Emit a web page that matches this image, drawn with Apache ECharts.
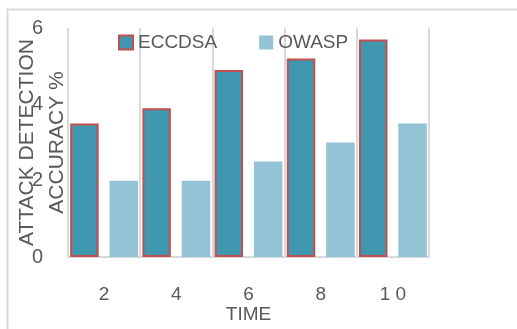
<!DOCTYPE html>
<html>
<head>
<meta charset="utf-8">
<script src="https://cdn.jsdelivr.net/npm/echarts@6/dist/echarts.min.js"></script>
<style>
  html, body { margin: 0; padding: 0; background: #fff; }
  #chart { width: 517px; height: 329px; }
</style>
</head>
<body>
<div id="chart"></div>
<script>
var timeLabels = ['2', '4', '6', '8', '1 0'];
var eccdsaValues = [3.5, 3.9, 4.9, 5.2, 5.7];
var owaspValues = [2.0, 2.0, 2.5, 3.0, 3.5];

var chart = echarts.init(document.getElementById('chart'));
var textColor = '#595959';
var fontName = 'Liberation Sans';

var option = {
  animation: false,
  graphic: [
    {
      type: 'rect',
      shape: { x: 7.5, y: 9.5, width: 540, height: 340 },
      style: { fill: 'none', stroke: '#d9d9d9', lineWidth: 2 },
      silent: true
    }
  ],
  legend: {
    left: 118,
    top: 33,
    padding: 0,
    itemWidth: 14,
    itemHeight: 14,
    itemGap: 42,
    icon: 'rect',
    textStyle: { color: textColor, fontSize: 19, fontFamily: fontName },
    data: ['ECCDSA', 'OWASP']
  },
  grid: {
    left: 68,
    right: 88,
    top: 28,
    bottom: 72,
    containLabel: false,
    outerBoundsMode: 'none'
  },
  xAxis: {
    type: 'category',
    data: timeLabels,
    name: 'TIME',
    nameLocation: 'middle',
    nameGap: 48,
    nameMoveOverlap: false,
    nameTextStyle: { color: textColor, fontSize: 19, fontFamily: fontName },
    axisLine: { show: true, lineStyle: { color: '#d9d9d9', width: 2 } },
    axisTick: { show: false },
    axisLabel: { color: textColor, fontSize: 19, fontFamily: fontName, margin: 28 },
    splitLine: { show: true, lineStyle: { color: '#d9d9d9', width: 2 } }
  },
  yAxis: {
    type: 'value',
    min: 0,
    max: 6,
    interval: 2,
    name: 'ATTACK DETECTION\nACCURACY %',
    nameLocation: 'middle',
    nameGap: -4,
    nameMoveOverlap: false,
    nameTextStyle: { color: textColor, fontSize: 21, fontFamily: fontName, lineHeight: 30 },
    axisLine: { show: false },
    axisTick: { show: false },
    axisLabel: { color: textColor, fontSize: 20, fontFamily: fontName, margin: 25 },
    splitLine: { show: false }
  },
  series: [
    {
      name: 'ECCDSA',
      type: 'bar',
      data: eccdsaValues,
      barGap: '38%',
      barCategoryGap: '6%',
      itemStyle: { color: '#4197af', borderColor: '#c0504d', borderWidth: 2 }
    },
    {
      name: 'OWASP',
      type: 'bar',
      data: owaspValues,
      itemStyle: { color: '#93c3d5' }
    }
  ]
};

chart.setOption(option);
</script>
</body>
</html>
